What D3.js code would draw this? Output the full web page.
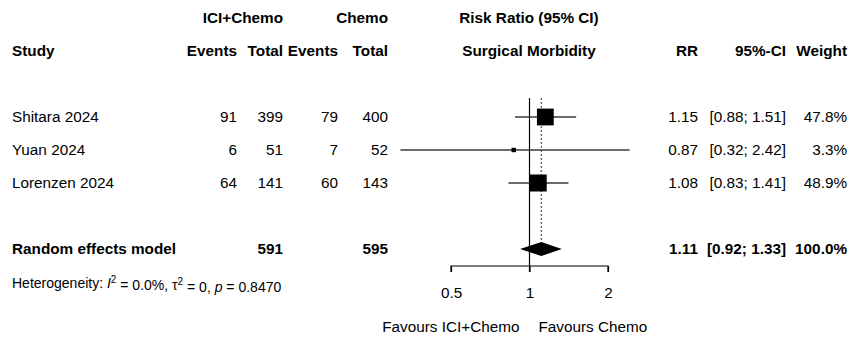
<!DOCTYPE html>
<html>
<head>
<meta charset="utf-8">
<script src="https://cdn.jsdelivr.net/npm/d3@7"></script>
<style>
  body { margin: 0; background: #fff; }
  text { font-family: "Liberation Sans", Arial, sans-serif; fill: #000; }
</style>
</head>
<body>
<div id="forest"></div>
<script>
// Study level data
const studies = ["Shitara 2024", "Yuan 2024", "Lorenzen 2024"];
const eventsExp = [91, 6, 64];
const totalExp = [399, 51, 141];
const eventsCtrl = [79, 7, 60];
const totalCtrl = [400, 52, 143];
const riskRatio = [1.15, 0.87, 1.08];
const ciLower = [0.88, 0.32, 0.83];
const ciUpper = [1.51, 2.42, 1.41];
const weights = [47.8, 3.3, 48.9];

// Pooled (random effects) result
const pooled = [1.11, 0.92, 1.33];
const pooledTotals = [591, 595];
const pooledWeight = 100.0;

const tickValues = [0.5, 1, 2];

const width = 849;
const height = 339;
const fontSize = 15.3;

const svg = d3.select("#forest")
    .append("svg")
    .attr("width", width)
    .attr("height", height);

// scales
const xScale = d3.scaleLog()
    .domain([0.5, 2])
    .range([451, 608]);

// row index -> vertical position (row 3 left blank before the summary)
const yScale = d3.scaleLinear()
    .domain([0, 4])
    .range([117, 249]);

const sizeScale = d3.scaleSqrt()
    .domain([0, d3.max(weights)])
    .range([0, 17]);

const fmt2 = d3.format(".2f");
const fmt1 = d3.format(".1f");

// column right edges
const col = { evE: 237, totE: 283, evC: 338, totC: 388, rr: 698, ci: 786, w: 847 };

function addText(x, y, str, anchor, bold, size) {
    return svg.append("text")
        .attr("x", x)
        .attr("y", y)
        .attr("dy", "0.35em")
        .attr("text-anchor", anchor)
        .attr("font-size", size || fontSize)
        .attr("font-weight", bold ? "bold" : "normal")
        .text(str);
}

// headers
const h1 = yScale(-3), h2 = yScale(-2);
addText(col.totE, h1, "ICI+Chemo", "end", true);
addText(col.totC, h1, "Chemo", "end", true);
addText(529, h1, "Risk Ratio (95% CI)", "middle", true);
addText(12, h2, "Study", "start", true);
addText(col.evE, h2, "Events", "end", true);
addText(col.totE, h2, "Total", "end", true);
addText(col.evC, h2, "Events", "end", true);
addText(col.totC, h2, "Total", "end", true);
addText(529, h2, "Surgical Morbidity", "middle", true);
addText(col.rr, h2, "RR", "end", true);
addText(col.ci, h2, "95%-CI", "end", true);
addText(col.w, h2, "Weight", "end", true);

// study rows text
studies.forEach((s, i) => {
    const y = yScale(i);
    addText(12, y, s, "start");
    addText(col.evE, y, eventsExp[i], "end");
    addText(col.totE, y, totalExp[i], "end");
    addText(col.evC, y, eventsCtrl[i], "end");
    addText(col.totC, y, totalCtrl[i], "end");
    addText(col.rr, y, fmt2(riskRatio[i]), "end");
    addText(col.ci, y, `[${fmt2(ciLower[i])}; ${fmt2(ciUpper[i])}]`, "end");
    addText(col.w, y, fmt1(weights[i]) + "%", "end");
});

// summary row text
const ySum = yScale(4);
addText(12, ySum, "Random effects model", "start", true);
addText(col.totE, ySum, pooledTotals[0], "end", true);
addText(col.totC, ySum, pooledTotals[1], "end", true);
addText(col.rr, ySum, fmt2(pooled[0]), "end", true);
addText(col.ci, ySum, `[${fmt2(pooled[1])}; ${fmt2(pooled[2])}]`, "end", true);
addText(col.w, ySum, fmt1(pooledWeight) + "%", "end", true);

// heterogeneity line
const het = svg.append("text")
    .attr("x", 12)
    .attr("y", yScale(5) + 1)
    .attr("dy", "0.35em")
    .attr("font-size", 14);
het.append("tspan").text("Heterogeneity: ");
het.append("tspan").attr("font-style", "italic").text("I");
het.append("tspan").attr("font-size", 10).attr("dy", "-0.45em").text("2");
het.append("tspan").attr("dy", "0.45em").text(" = 0.0%, \u03c4");
het.append("tspan").attr("font-size", 10).attr("dy", "-0.45em").text("2");
het.append("tspan").attr("dy", "0.45em").text(" = 0, ");
het.append("tspan").attr("font-style", "italic").text("p");
het.append("tspan").text(" = 0.8470");

// reference line at RR = 1 and dotted pooled line
const plotTop = 98;
const axisY = 266;
svg.append("line")
    .attr("x1", xScale(1)).attr("x2", xScale(1))
    .attr("y1", plotTop).attr("y2", axisY + 6)
    .attr("stroke", "#000").attr("stroke-width", 1.2);

svg.append("line")
    .attr("x1", xScale(pooled[0])).attr("x2", xScale(pooled[0]))
    .attr("y1", plotTop).attr("y2", ySum - 7)
    .attr("stroke", "#555").attr("stroke-width", 1.2)
    .attr("stroke-dasharray", "2,2");

// confidence intervals
svg.selectAll(".ci")
    .data(studies)
    .enter()
    .append("line")
    .attr("class", "ci")
    .attr("x1", (d, i) => xScale(ciLower[i]))
    .attr("x2", (d, i) => xScale(ciUpper[i]))
    .attr("y1", (d, i) => yScale(i))
    .attr("y2", (d, i) => yScale(i))
    .attr("stroke", "#3a3a3a")
    .attr("stroke-width", 1.3);

// weight squares
svg.selectAll(".box")
    .data(studies)
    .enter()
    .append("rect")
    .attr("class", "box")
    .attr("x", (d, i) => xScale(riskRatio[i]) - sizeScale(weights[i]) / 2)
    .attr("y", (d, i) => yScale(i) - sizeScale(weights[i]) / 2)
    .attr("width", (d, i) => sizeScale(weights[i]))
    .attr("height", (d, i) => sizeScale(weights[i]))
    .attr("fill", "#000");

// pooled diamond
const diamond = [
    [xScale(pooled[1]), ySum],
    [xScale(pooled[0]), ySum - 7],
    [xScale(pooled[2]), ySum],
    [xScale(pooled[0]), ySum + 7]
];
svg.append("polygon")
    .attr("points", diamond.map(p => p.join(",")).join(" "))
    .attr("fill", "#000");

// x axis with downward ticks
const xAxis = d3.axisBottom(xScale)
    .tickValues(tickValues)
    .tickFormat(d3.format("~g"))
    .tickSize(6)
    .tickPadding(15);

const axisG = svg.append("g")
    .attr("transform", `translate(0, ${axisY})`)
    .call(xAxis);
axisG.select(".domain")
    .attr("d", `M${xScale(0.5)},6V0H${xScale(2)}V6`)
    .attr("stroke-width", 1.2);
axisG.selectAll(".tick line").attr("stroke-width", 1.2);
axisG.selectAll(".tick text")
    .attr("font-size", fontSize)
    .attr("font-family", "Liberation Sans, Arial, sans-serif")
    .attr("fill", "#000");

// direction labels
addText(xScale(1) - 10, 327, "Favours ICI+Chemo", "end");
addText(xScale(1) + 9, 327, "Favours Chemo", "start");
</script>
</body>
</html>
